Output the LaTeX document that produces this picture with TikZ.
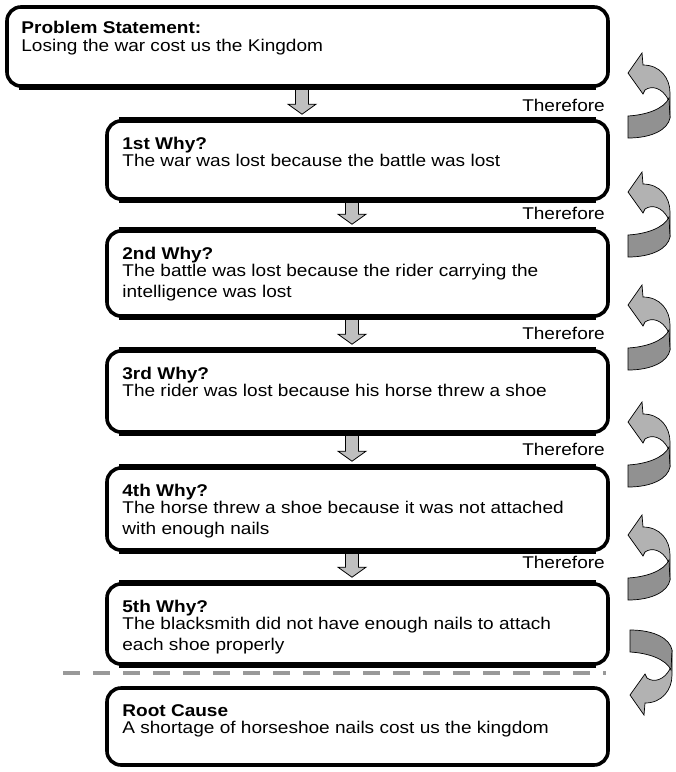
\documentclass[tikz,border=0pt]{standalone}
\usepackage{fontspec}
\setmainfont{Liberation Sans}[FakeStretch=1.12]
\usetikzlibrary{calc}
\newcommand\txtsize{\fontsize{17}{21}\selectfont}
\begin{document}
\begin{tikzpicture}[x=1pt,y=-1pt,
  box/.style={draw, line width=3.6pt, rounded corners=14pt, minimum width=501pt, inner sep=0pt},
  pbox/.style={box, minimum width=601pt},
  txt/.style={anchor=north west, inner sep=0pt, align=left, font=\txtsize},
  ther/.style={anchor=base east, inner sep=0pt, font=\txtsize},
  darr/.style={draw=black, line width=0.8pt, fill=black!25},
  backface/.style={draw=black, line width=0.7pt, fill=black!30},
  frontface/.style={draw=black, line width=0.7pt, fill=black!43},
  curl/.pic={
    \path[backface] (0,20) -- (14,0) -- (15,12) .. controls (32,12) and (42,25) .. (42,40)
      -- (42,65) -- (40,46) .. controls (34,35) and (24,32) .. (17,37) -- (15,41) -- cycle;
    \path[frontface] (0,63) .. controls (18,62) and (36,56) .. (41,45) -- (42,65)
      .. controls (40,76) and (25,85) .. (0,85) -- cycle;
  }]
\useasboundingbox (0,0) rectangle (676,772);

% boxes
\node[pbox, minimum height=79pt] (p)  at (307.5,46.5) {};
\node[box, minimum height=78pt]  (b1) at (357.5,160) {};
\node[box, minimum height=85pt]  (b2) at (357.5,273.5) {};
\node[box, minimum height=81pt]  (b3) at (357.5,391.5) {};
\node[box, minimum height=82pt]  (b4) at (357.5,509) {};
\node[box, minimum height=80pt]  (b5) at (357.5,624) {};
\node[box, minimum height=77pt]  (rc) at (357.5,726.5) {};

% texts
\node[txt] (tp) at ($(p.north west)+(16,16)$) {\textbf{Problem Statement:}\\[-3pt]Losing the war cost us the Kingdom};
\node[txt] (t1) at ($(b1.north west)+(17,18)$) {\textbf{1st Why?}\\[-4pt]The war was lost because the battle was lost};
\node[txt] (t2) at ($(b2.north west)+(17,18)$) {\textbf{2nd Why?}\\[-4pt]The battle was lost because the rider carrying the\\intelligence was lost};
\node[txt] (t3) at ($(b3.north west)+(17,18)$) {\textbf{3rd Why?}\\[-4pt]The rider was lost because his horse threw a shoe};
\node[txt] (t4) at ($(b4.north west)+(17,18)$) {\textbf{4th Why?}\\[-4pt]The horse threw a shoe because it was not attached\\with enough nails};
\node[txt] (t5) at ($(b5.north west)+(17,18)$) {\textbf{5th Why?}\\[-4pt]The blacksmith did not have enough nails to attach\\each shoe properly};
\node[txt] (tr) at ($(rc.north west)+(17,18)$) {\textbf{Root Cause}\\[-4pt]A shortage of horseshoe nails cost us the kingdom};

% down arrows
\foreach \a/\b in {p/b1,b1/b2,b2/b3,b3/b4,b4/b5}{
  \path[darr] let \p1=($(\a.south)+(-5.5,0)$), \p2=($(\b.north)+(-5.5,0)$) in
    (\x1-6.5pt,\y1) -- (\x1+6.5pt,\y1) -- (\x1+6.5pt,\y2+15pt) -- (\x1+14pt,\y2+15pt)
    -- (\x1,\y2+5pt) -- (\x1-14pt,\y2+15pt) -- (\x1-6.5pt,\y2+15pt) -- cycle;
}
% redraw box borders over arrows
\foreach \n in {p,b1,b2,b3,b4,b5}{
  \draw[line width=3.6pt] ($(\n.south west)+(14,0)$) -- ($(\n.south east)+(-14,0)$);
}
\foreach \n in {b1,b2,b3,b4,b5}{
  \draw[line width=3.6pt] ($(\n.north west)+(14,0)$) -- ($(\n.north east)+(-14,0)$);
}

% Therefore labels
\node[ther] (th1) at (605,111) {Therefore};
\node[ther] (th2) at (605,219) {Therefore};
\node[ther] (th3) at (605,339) {Therefore};
\node[ther] (th4) at (605,455) {Therefore};
\node[ther] (th5) at (605,568) {Therefore};

% dashed separator
\coordinate (dl) at (63,673);
\coordinate (dr) at (606,673);
\draw[black!40, line width=3.6pt, dash pattern=on 17pt off 13pt] (dl) -- (dr);

% curled arrows
\pic at (628,53) {curl};
\pic at (628,172) {curl};
\pic at (628,285) {curl};
\pic at (628,402) {curl};
\pic at (628,515) {curl};
\pic[yscale=-1] at (630,715) {curl};
\end{tikzpicture}
\end{document}
